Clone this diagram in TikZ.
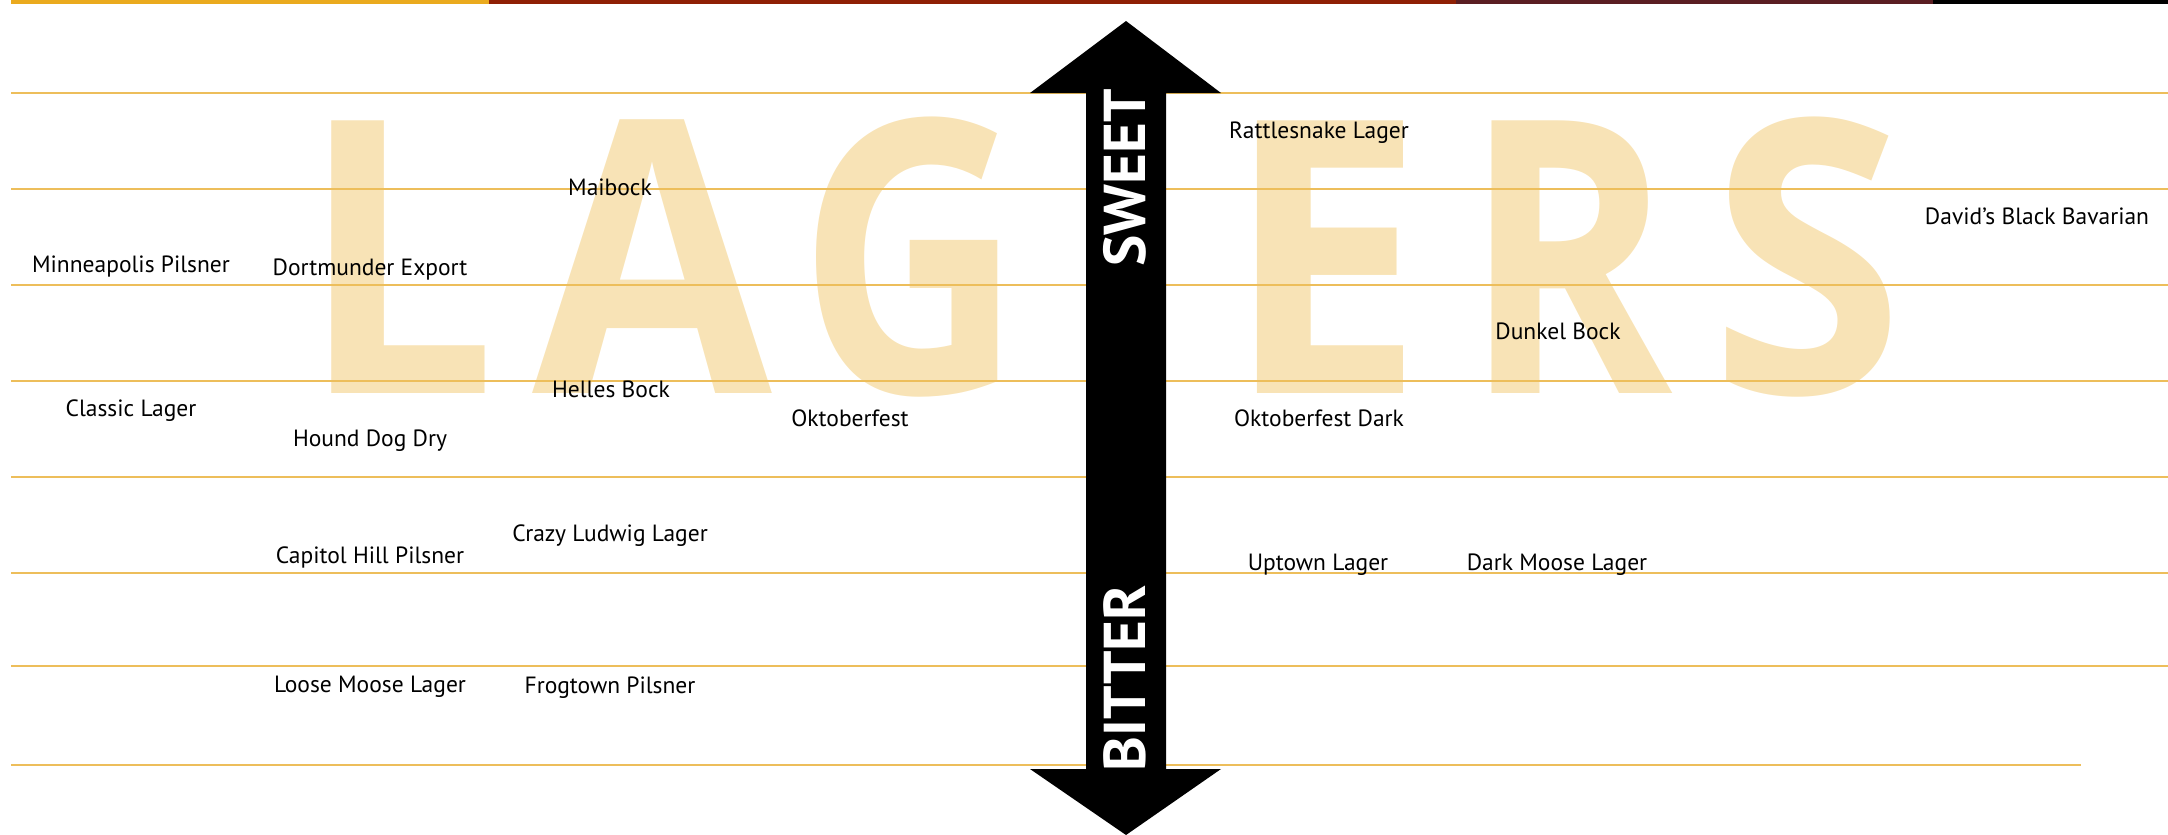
\documentclass[tikz,border=0pt]{standalone}
\usepackage{fontspec}
\setmainfont{PT Sans}
\newfontfamily\bigfont{Open Sans}
\usetikzlibrary{positioning}

\definecolor{barYellow}{RGB}{234,170,30}
\definecolor{barRed}{RGB}{143,32,5}
\definecolor{barMaroon}{RGB}{90,30,34}
\definecolor{lineGold}{RGB}{237,190,91}
\definecolor{markPeach}{RGB}{248,227,182}

\begin{document}
\begin{tikzpicture}[x=1pt, y=-1pt,
    beer/.style={anchor=base, inner sep=0pt, font=\fontsize{23.5}{28}\selectfont},
    bigletter/.style={anchor=base, inner sep=0pt, text=markPeach, font=\bigfont\bfseries\fontsize{382}{382}\selectfont},
    axislabel/.style={rotate=90, inner sep=0pt, text=white, font=\bfseries\fontsize{59}{59}\selectfont},
    guide/.style={lineGold, line width=1.7pt}]
    \useasboundingbox (0,0) rectangle (2168,835);

    %背景の文字を書く
    \node[bigletter, xscale=0.91] (wmL) at (399,393) {L};
    \node[bigletter, xscale=0.91] (wmA) at (652,393) {A};
    \node[bigletter, xscale=0.81] (wmG) at (911,393) {G};
    \node[bigletter, xscale=0.93] (wmE) at (1325,393) {E};
    \node[bigletter, xscale=0.83] (wmR) at (1568,393) {R};
    \node[bigletter, xscale=0.92] (wmS) at (1807,393) {S};

    %線を書く
    \foreach \y in {93,189,285,381,477,573,666}
        \draw[guide] (11,\y) -- (2168,\y);
    \draw[guide] (11,765) -- (2081,765);

    %上の帯を書く
    \fill[barYellow] (11,0) rectangle (489,4);
    \fill[barRed] (489,0) rectangle (1456,4);
    \fill[barMaroon] (1456,0) rectangle (1933,4);
    \fill[black] (1933,0) rectangle (2168,4);

    %矢印を書く
    \fill[black] (1126,21) -- (1221,93) -- (1166,93) -- (1166,769) -- (1221,769) -- (1126,835)
        -- (1030,769) -- (1086,769) -- (1086,93) -- (1030,93) -- cycle;
    \node[axislabel] (sweet) at (1125,178) {SWEET};
    \node[axislabel] (bitter) at (1125,678) {BITTER};

    %ビールの名前を書く
    \node[beer] (minneapolis) at (131,272) {Minneapolis Pilsner};
    \node[beer] (classic) at (131,416) {Classic Lager};

    \node[beer] (dortmunder) at (370,275) {Dortmunder Export};
    \node[beer] (hounddog) at (370,446) {Hound Dog Dry};
    \node[beer] (capitol) at (370,563) {Capitol Hill Pilsner};
    \node[beer] (loosemoose) at (370,692) {Loose Moose Lager};

    \node[beer] (maibock) at (610,195) {Maibock};
    \node[beer] (helles) at (611,397) {Helles Bock};
    \node[beer] (ludwig) at (610,541) {Crazy Ludwig Lager};
    \node[beer] (frogtown) at (610,693) {Frogtown Pilsner};

    \node[beer] (oktober) at (850,426) {Oktoberfest};

    \node[beer] (rattlesnake) at (1319,138) {Rattlesnake Lager};
    \node[beer] (oktoberdark) at (1319,426) {Oktoberfest Dark};
    \node[beer] (uptown) at (1318,570) {Uptown Lager};

    \node[beer] (dunkel) at (1558,339) {Dunkel Bock};
    \node[beer] (darkmoose) at (1557,570) {Dark Moose Lager};

    \node[beer] (davids) at (2037,224) {David’s Black Bavarian};
\end{tikzpicture}
\end{document}
